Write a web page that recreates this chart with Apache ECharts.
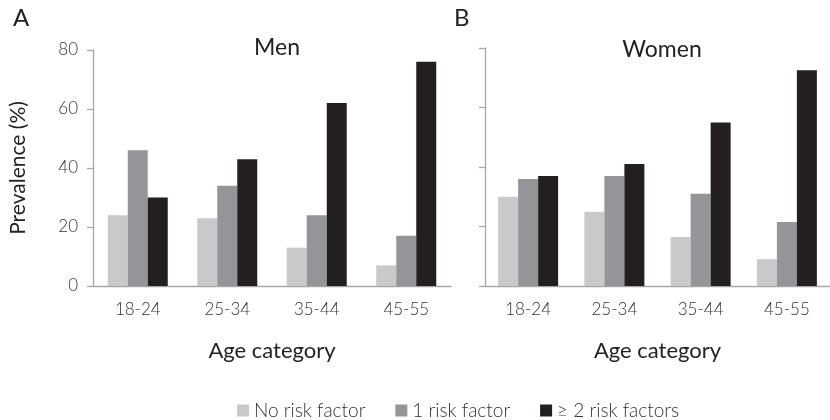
<!DOCTYPE html>
<html><head><meta charset="utf-8">
<script src="https://cdn.jsdelivr.net/npm/echarts@6/dist/echarts.min.js"></script>
<style>html,body{margin:0;padding:0;background:#fff}#c{width:830px;height:420px}</style>
</head><body><div id="c"></div>
<script>
var categories = ['18-24','25-34','35-44','45-55'];
var seriesNames = ['No risk factor','1 risk factor','\u2265 2 risk factors'];
var menNone = [24, 23, 13, 7];
var menOne = [46, 34, 24, 17];
var menTwo = [30, 43, 62, 76];
var womenNone = [30, 25, 16.5, 9];
var womenOne = [36, 37, 31, 21.5];
var womenTwo = [37, 41, 55, 72.5];
var yTicks = [0, 20, 40, 60, 80];
var colors = ['#c8c9cb', '#939598', '#231f20'];

var FONT = 'Lato, "Open Sans", sans-serif';
var axisCol = '#a6a6a6';
var chart = echarts.init(document.getElementById('c'));

function xAx(gi){
  return {type:'category', gridIndex:gi, data:categories,
    axisLine:{lineStyle:{color:axisCol,width:1.3}},
    axisTick:{length:6,lineStyle:{color:axisCol,width:1.3}},
    axisLabel:{color:'#333',fontSize:17,fontFamily:FONT,fontWeight:300,margin:15},
    name:'Age category', nameLocation:'middle', nameGap:54,
    nameTextStyle:{color:'#222',fontSize:22,fontFamily:FONT}};
}
function yAx(gi, show){
  return {type:'value', gridIndex:gi, min:yTicks[0], max:yTicks[yTicks.length-1], interval:20,
    splitLine:{show:false},
    axisLine:{show:true,lineStyle:{color:axisCol,width:1.3}},
    axisTick:{show:true,length:6,lineStyle:{color:axisCol,width:1.3}},
    axisLabel:{show:show,color:'#333',fontSize:17,fontFamily:FONT,fontWeight:300,margin:15},
    name: show ? 'Prevalence (%)' : '', nameLocation:'middle', nameGap:64,
    nameTextStyle:{color:'#222',fontSize:21,fontFamily:FONT}};
}
function bars(name, data, ci, gi){
  return {name:name, type:'bar', xAxisIndex:gi, yAxisIndex:gi, data:data,
    barWidth:20, barGap:'0%', itemStyle:{color:colors[ci]}};
}
chart.setOption({
  animation:false,
  title:[
    {text:'A', left:8, top:1, textStyle:{fontSize:24,fontWeight:'normal',color:'#222',fontFamily:FONT}},
    {text:'B', left:449, top:1, textStyle:{fontSize:24,fontWeight:'normal',color:'#222',fontFamily:FONT}},
    {text:'Men', left:272, top:31, textAlign:'center', textStyle:{fontSize:23,fontWeight:'normal',color:'#222',fontFamily:FONT}},
    {text:'Women', left:657, top:33, textAlign:'center', textStyle:{fontSize:23,fontWeight:'normal',color:'#222',fontFamily:FONT}}
  ],
  legend:{data:seriesNames, left:232, top:396, itemWidth:12, itemHeight:12, itemGap:30,
    icon:'rect', textStyle:{fontSize:19,color:'#333',fontFamily:FONT,fontWeight:300}},
  grid:[
    {left:93, top:50, width:358, height:236},
    {left:485, top:48, width:351, height:238}
  ],
  xAxis:[xAx(0), xAx(1)],
  yAxis:[yAx(0,true), yAx(1,false)],
  series:[
    bars(seriesNames[0], menNone, 0, 0),
    bars(seriesNames[1], menOne, 1, 0),
    bars(seriesNames[2], menTwo, 2, 0),
    bars(seriesNames[0], womenNone, 0, 1),
    bars(seriesNames[1], womenOne, 1, 1),
    bars(seriesNames[2], womenTwo, 2, 1)
  ]
});
</script></body></html>
